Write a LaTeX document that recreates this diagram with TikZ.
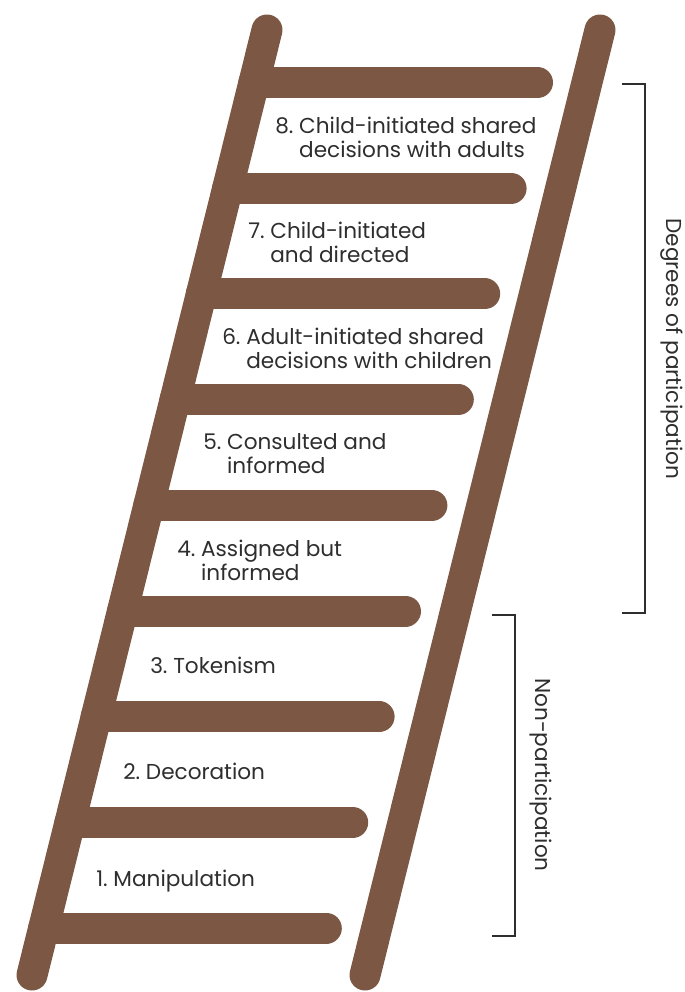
\documentclass[tikz,border=0pt]{standalone}
\usepackage{fontspec}
\setmainfont{Poppins}
\usetikzlibrary{positioning}
\definecolor{wood}{HTML}{7B5744}
\definecolor{ink}{HTML}{2E2E2E}

\begin{document}
\begin{tikzpicture}[x=0.75pt,y=-0.75pt,
  rail/.style={draw=wood,line width=23.25pt,line cap=round},
  lbl/.style={anchor=base west,align=left,text=ink,inner sep=0pt,font=\fontsize{16.2}{18}\selectfont},
  brk/.style={draw=ink,line width=1.9pt},
  side/.style={rotate=-90,text=ink,inner sep=0pt,font=\fontsize{16.2}{18}\selectfont}]
\useasboundingbox (0,0) rectangle (685,992);
% rails
\coordinate (lt) at (267,30); \coordinate (lb) at (32,975);
\coordinate (rt) at (600,30); \coordinate (rb) at (365,975);
% rungs
\foreach \k in {0,...,8}{
  \pgfmathsetmacro{\yy}{82.5+105.7*\k}
  \pgfmathsetmacro{\xl}{267-0.2487*(\yy-30)}
  \pgfmathsetmacro{\xr}{537.5-26.4*\k}
  \draw[rail] (\xl,\yy) -- (\xr,\yy);
}
\draw[rail] (lt) -- (lb);
\draw[rail] (rt) -- (rb);
% labels (base = last line)
\node[lbl] (l8) at (275,157) {8.\ Child-initiated shared\\\phantom{8.\ }decisions with adults};
\node[lbl] (l7) at (248,262) {7.\ Child-initiated\\\phantom{7.\ }and directed};
\node[lbl] (l6) at (222,368) {6.\ Adult-initiated shared\\\phantom{6.\ }decisions with children};
\node[lbl] (l5) at (203,473) {5.\ Consulted and\\\phantom{5.\ }informed};
\node[lbl] (l4) at (177,580) {4.\ Assigned but\\\phantom{4.\ }informed};
\node[lbl] (l3) at (150,673) {3.\ Tokenism};
\node[lbl] (l2) at (123,779) {2.\ Decoration};
\node[lbl] (l1) at (96,886) {1.\ Manipulation};
% brackets
\coordinate (dt) at (622,84); \coordinate (db) at (622,613);
\coordinate (nt) at (492,615); \coordinate (nb) at (492,936);
\draw[brk] (dt) -| (645,348.5) |- (db);
\draw[brk] (nt) -| (515,775.5) |- (nb);
\node[side] (deg) at (672,349) {Degrees of participation};
\node[side] (non) at (541,775) {Non-participation};
\end{tikzpicture}
\end{document}
